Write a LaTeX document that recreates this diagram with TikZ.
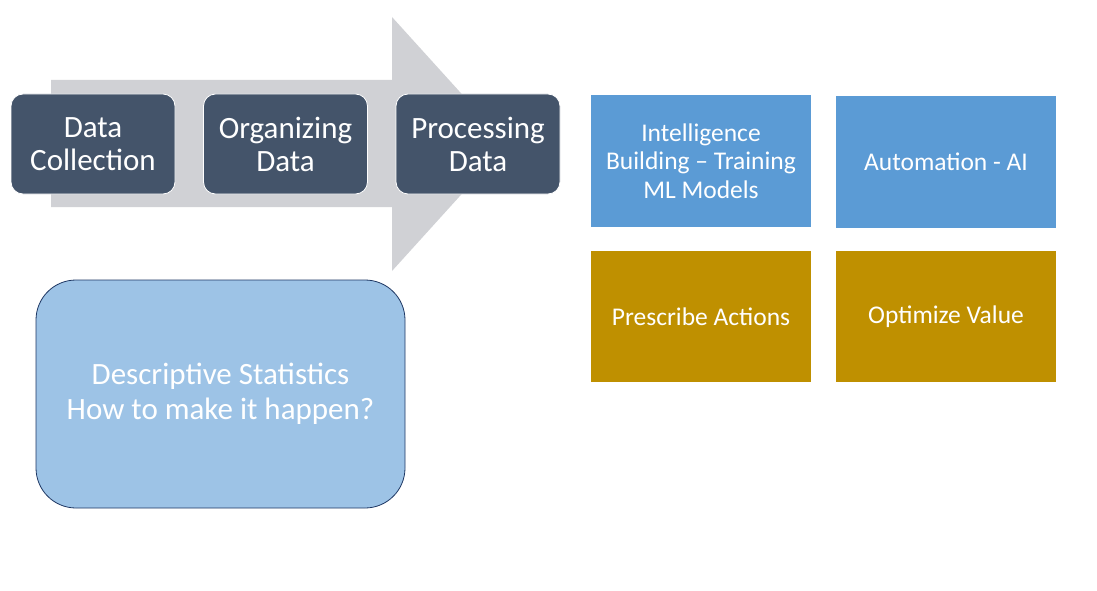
\documentclass[tikz,border=0pt]{standalone}
\usepackage{fontspec}
\setmainfont{Carlito}
\definecolor{arrowgray}{HTML}{D0D1D5}
\definecolor{darkbox}{HTML}{44546A}
\definecolor{bluebox}{HTML}{5B9BD5}
\definecolor{goldbox}{HTML}{BF9000}
\definecolor{lightblue}{HTML}{9DC3E6}
\definecolor{navyline}{HTML}{1F3864}
\begin{document}
\begin{tikzpicture}[x=1pt,y=-1pt,
  stagebox/.style={draw=white, line width=0.8pt, fill=darkbox, rounded corners=12pt,
    minimum width=164pt, minimum height=100pt, inner sep=0pt, text=white, align=center,
    font=\fontsize{31}{33}\selectfont},
  tile/.style={minimum width=220pt, minimum height=132pt, inner sep=0pt, text=white,
    align=center, font=\fontsize{25.5}{28.5}\selectfont},
  bigbox/.style={draw=navyline, line width=0.8pt, fill=lightblue, rounded corners=40pt,
    minimum width=369pt, minimum height=228pt, inner sep=0pt, text=white, align=center,
    font=\fontsize{31}{35}\selectfont}]
\useasboundingbox (0,0) rectangle (1097,591);
\fill[white] (0,0) rectangle (1097,591);
% big arrow
\fill[arrowgray] (51,80) -- (392,80) -- (392,17) -- (507,144) -- (392,271) -- (392,207) -- (51,207) -- cycle;
% stage boxes
\node[stagebox] (dc) at (93,144) {Data\\Collection};
\node[stagebox] (od) at (285.5,144) {Organizing\\Data};
\node[stagebox] (pd) at (478,144) {Processing\\Data};
% tiles
\node[tile, fill=bluebox] (ib) at (701,161) {Intelligence\\Building -- Training\\ML Models};
\node[tile, fill=bluebox] (au) at (946,162) {Automation - AI};
\node[tile, fill=goldbox, minimum height=131pt] (pa) at (701,316.5) {Prescribe Actions};
\node[tile, fill=goldbox, minimum height=131pt] (ov) at (946,316.5) {Optimize Value};
% descriptive statistics
\node[bigbox] (ds) at (220.5,394) {Descriptive Statistics\\How to make it happen?};
\end{tikzpicture}
\end{document}
